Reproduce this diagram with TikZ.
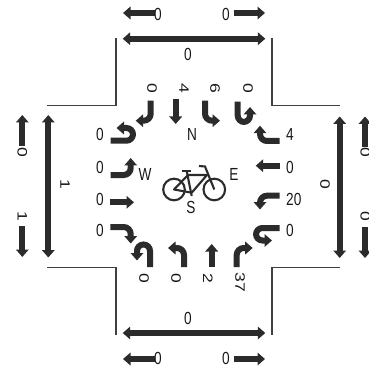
\documentclass[tikz,border=0pt]{standalone}
\usepackage{fontspec}
\setmainfont{Liberation Sans}
\usetikzlibrary{arrows.meta}
\definecolor{lane-dark}{RGB}{43,43,43}
\tikzstyle{lane}=[line width=6pt, lane-dark, -{Triangle[width=12.5pt,length=7.5pt]}]
\tikzstyle{leg}=[line width=6pt, lane-dark, {Triangle[width=12.5pt,length=7.5pt]}-{Triangle[width=12.5pt,length=7.5pt]}]
\tikzstyle{kerb}=[line width=1.6pt, black!75]
\tikzstyle{count}=[font=\fontsize{17.5}{17.5}\selectfont, text=black!90, inner sep=0pt, xscale=.78]
\tikzstyle{bike}=[line width=2.1pt, lane-dark]
\newcommand{\turnarrow}[1]{
	\draw[lane, rounded corners=7pt] #1;
}
\newcommand{\uarrow}[1]{
	\draw[lane, rounded corners=6.5pt] #1;
}
\begin{document}
\begin{tikzpicture}[x=1pt,y=-1pt]
	\useasboundingbox (0,0) rectangle (368,371);
	% kerbs
	\draw[kerb] (115.7,38) -- (115.7,105.7) -- (47,105.7);
	\draw[kerb] (271.7,38) -- (271.7,105.7) -- (339.7,105.7);
	\draw[kerb] (47,267.3) -- (115.7,267.3) -- (115.7,335);
	\draw[kerb] (339.7,267.3) -- (271.7,267.3) -- (271.7,335);
	% leg totals
	\draw[leg] (122.7,38.7) -- (265.3,38.7);
	\draw[leg] (122.7,333) -- (265.3,333);
	\draw[leg] (48.3,115) -- (48.3,257.5);
	\draw[leg] (339.7,116.5) -- (339.7,258);
	% exits and entries
	\draw[lane] (154.5,13) -- (123,13);
	\draw[lane] (233.7,13) -- (265,13);
	\draw[lane] (154.5,359) -- (123,359);
	\draw[lane] (233.7,359) -- (265,359);
	\draw[lane] (22.3,146) -- (22.3,115);
	\draw[lane] (22.3,226) -- (22.3,257);
	\draw[lane] (365,147) -- (365,116.5);
	\draw[lane] (365,227) -- (365,258);
	% north approach
	\turnarrow{(150.7,100.7) -- (150.7,120.7) -- (135.7,120.7)}
	\draw[lane] (175.7,99.5) -- (175.7,124);
	\turnarrow{(205,100.7) -- (205,120.7) -- (220,120.7)}
	\uarrow{(237.7,101.7) -- (237.7,122) -- (250,122) -- (250,107)}
	% west approach
	\uarrow{(110.7,140.7) -- (133,140.7) -- (133,128) -- (116.5,128)}
	\turnarrow{(110.7,175) -- (130.7,175) -- (130.7,158)}
	\draw[lane] (109.5,202.3) -- (134,202.3);
	\turnarrow{(110.3,227) -- (130.7,227) -- (130.7,243.5)}
	% south approach
	\uarrow{(150,267) -- (150,244.5) -- (137,244.5) -- (137,260.5)}
	\turnarrow{(184,267) -- (184,248) -- (168,248)}
	\draw[lane] (211.7,267) -- (211.7,244);
	\turnarrow{(236.7,267) -- (236.7,248) -- (252.7,248)}
	% east approach
	\turnarrow{(279.5,141) -- (260,141) -- (260,125.7)}
	\draw[lane] (279.5,165.7) -- (255.7,165.7);
	\turnarrow{(279.5,195.7) -- (260,195.7) -- (260,209.5)}
	\uarrow{(279.5,228) -- (256,228) -- (256,240.5) -- (272,240.5)}
	% bicycle
	\draw[bike] (174,189.5) circle (10.8);
	\draw[bike] (214.3,189.5) circle (10.8);
	\draw[bike, line join=round] (174,189.5) -- (188,175) -- (207,175) -- (191.7,192.7) -- cycle;
	\draw[bike] (186.7,171) -- (191.7,196);
	\draw[bike] (214.3,189.5) -- (205,166.5) -- (199,166);
	\draw[bike, line width=2.6pt] (182,171) -- (191,171);
	% leg counts
	\node[count] (topTotal) at (188,54) {0};
	\node[count] (topLeft) at (158,14.7) {0};
	\node[count] (topRight) at (226,14.7) {0};
	\node[count] (botTotal) at (188,318) {0};
	\node[count] (botLeft) at (158,358.5) {0};
	\node[count] (botRight) at (226,358.5) {0};
	\node[count, rotate=-90] (leftTotal) at (65,184) {1};
	\node[count, rotate=-90] (leftUp) at (22.3,152.5) {0};
	\node[count, rotate=-90] (leftDown) at (22.3,216) {1};
	\node[count, rotate=-90] (rightTotal) at (325,184) {0};
	\node[count, rotate=-90] (rightUp) at (365.3,152.5) {0};
	\node[count, rotate=-90] (rightDown) at (365.3,216) {0};
	% movement counts
	\node[count, rotate=-90] (nA) at (152,88) {0};
	\node[count, rotate=-90] (nB) at (184,88) {4};
	\node[count, rotate=-90] (nC) at (215,88) {6};
	\node[count, rotate=-90] (nD) at (248,88) {0};
	\node[count] (wA) at (100,134) {0};
	\node[count] (wB) at (100,167) {0};
	\node[count] (wC) at (100,199) {0};
	\node[count] (wD) at (100,230) {0};
	\node[count, anchor=west] (eA) at (286,134) {4};
	\node[count, anchor=west] (eB) at (286,167) {0};
	\node[count, anchor=west] (eC) at (286,199) {20};
	\node[count, anchor=west] (eD) at (286,230) {0};
	\node[count, rotate=-90] (sA) at (144,278) {0};
	\node[count, rotate=-90] (sB) at (176,278) {0};
	\node[count, rotate=-90] (sC) at (208,278) {2};
	\node[count, rotate=-90] (sD) at (240,282) {37};
	% compass
	\node[count] (north) at (192,134) {N};
	\node[count] (west) at (145,174) {W};
	\node[count] (east) at (234,174) {E};
	\node[count] (south) at (191,207) {S};
\end{tikzpicture}
\end{document}
